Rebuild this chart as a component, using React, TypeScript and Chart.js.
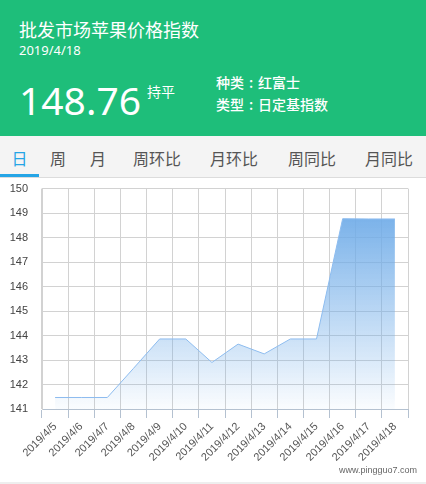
import { useEffect, useRef } from "react"
import { Chart, registerables, type ChartConfiguration } from "chart.js"

Chart.register(...registerables)

// data
const dates = [
  "2019/4/5", "2019/4/6", "2019/4/7", "2019/4/8", "2019/4/9", "2019/4/10", "2019/4/11",
  "2019/4/12", "2019/4/13", "2019/4/14", "2019/4/15", "2019/4/16", "2019/4/17", "2019/4/18",
]
const priceIndex = [
  141.47, 141.47, 141.47, 142.66, 143.86, 143.86, 142.9,
  143.65, 143.25, 143.86, 143.86, 148.77, 148.76, 148.76,
]
const yMin = 141
const yMax = 150

const tabs = ["日", "周", "月", "周环比", "月环比", "周同比", "月同比"]
const tabCenters = [19.5, 58, 98, 157, 234, 312, 389]

const cjk = '"Noto Sans CJK SC", "Noto Sans", sans-serif'

function PriceChart() {
  const chartRef = useRef<HTMLCanvasElement>(null)
  const chartInstance = useRef<Chart | null>(null)

  useEffect(() => {
    if (!chartRef.current) return
    const ctx = chartRef.current.getContext("2d")
    if (!ctx) return

    if (chartInstance.current) {
      chartInstance.current.destroy()
    }

    const peak = Math.max(...priceIndex)

    const config: ChartConfiguration = {
      type: "line",
      data: {
        labels: dates,
        datasets: [
          {
            data: priceIndex,
            borderColor: "#8dbcef",
            borderWidth: 1,
            pointRadius: 0,
            tension: 0,
            fill: "start",
            backgroundColor: (c: any) => {
              const chart = c.chart
              const area = chart.chartArea
              if (!area) return "rgba(112,172,232,0.5)"
              const top = chart.scales.y.getPixelForValue(peak)
              const g = chart.ctx.createLinearGradient(0, top, 0, area.bottom)
              g.addColorStop(0, "rgba(112,172,232,0.92)")
              g.addColorStop(1, "rgba(112,172,232,0.03)")
              return g
            },
          },
        ],
      },
      options: {
        responsive: true,
        maintainAspectRatio: false,
        animation: false,
        layout: {
          padding: { top: 0, right: 18, left: 0, bottom: 0 },
        },
        scales: {
          x: {
            offset: true,
            grid: {
              offset: true,
              color: "#d2d2d2",
              tickColor: "#b4c1d0",
              tickLength: 9,
            },
            border: { color: "#b4c1d0" },
            ticks: {
              autoSkip: false,
              maxRotation: 45,
              minRotation: 45,
              padding: 2,
              color: "#555",
              font: { family: '"Liberation Sans", Arial, sans-serif', size: 11 },
            },
            afterFit: (scale: any) => {
              scale.height = 59
            },
          },
          y: {
            min: yMin,
            max: yMax,
            grid: {
              color: "#d2d2d2",
              drawTicks: false,
            },
            border: { color: "#d2d2d2" },
            ticks: {
              stepSize: 1,
              padding: 14,
              color: "#444",
              font: { family: '"Liberation Sans", Arial, sans-serif', size: 11 },
            },
            afterFit: (scale: any) => {
              scale.width = 42
            },
          },
        },
        plugins: {
          legend: { display: false },
          tooltip: { enabled: false },
        },
      },
    }

    chartInstance.current = new Chart(ctx, config)

    return () => {
      if (chartInstance.current) {
        chartInstance.current.destroy()
        chartInstance.current = null
      }
    }
  }, [])

  return (
    <div style={{ position: "absolute", left: 0, top: 168, width: 426, height: 300 }}>
      <canvas ref={chartRef} />
    </div>
  )
}

function Colon() {
  return <span style={{ display: "inline-block", width: 14, textAlign: "center" }}>:</span>
}

export default function App() {
  return (
    <div
      style={{
        position: "absolute",
        left: 0,
        top: 0,
        width: 426,
        height: 484,
        overflow: "hidden",
        background: "#fff",
        fontFamily: cjk,
      }}
    >
      {/* green header */}
      <div style={{ position: "absolute", left: 0, top: 0, width: 426, height: 136, background: "#1ebe7a", color: "#fff" }}>
        <div style={{ position: "absolute", left: 19, top: 20, fontSize: 18, lineHeight: "18px", whiteSpace: "nowrap" }}>
          批发市场苹果价格指数
        </div>
        <div style={{ position: "absolute", left: 19, top: 44, fontSize: 13, lineHeight: "13px", fontFamily: '"Noto Sans", sans-serif' }}>
          2019/4/18
        </div>
        <div style={{ position: "absolute", left: 19, top: 80, fontSize: 39, lineHeight: "39px", fontFamily: '"Noto Sans", sans-serif' }}>
          148.76
        </div>
        <div style={{ position: "absolute", left: 147, top: 84, fontSize: 14, lineHeight: "14px" }}>持平</div>
        <div style={{ position: "absolute", left: 216, top: 75, fontSize: 14, lineHeight: "14px", fontWeight: 500, whiteSpace: "nowrap" }}>
          种类<Colon />红富士
        </div>
        <div style={{ position: "absolute", left: 216, top: 97, fontSize: 14, lineHeight: "14px", fontWeight: 500, whiteSpace: "nowrap" }}>
          类型<Colon />日定基指数
        </div>
      </div>

      {/* tab bar */}
      <div style={{ position: "absolute", left: 0, top: 136, width: 426, height: 41, background: "#f4f4f4", borderBottom: "1px solid #dcdcdc" }}>
        {tabs.map((t, i) => (
          <div
            key={t}
            style={{
              position: "absolute",
              left: tabCenters[i] - 30,
              width: 60,
              top: 14,
              textAlign: "center",
              fontSize: 16,
              lineHeight: "16px",
              color: i === 0 ? "#25a5e6" : "#555",
            }}
          >
            {t}
          </div>
        ))}
        <div style={{ position: "absolute", left: 0, top: 38, width: 39, height: 3, background: "#25a5e6" }} />
      </div>

      <PriceChart />

      <div
        style={{
          position: "absolute",
          right: 9,
          top: 465,
          fontSize: 9,
          lineHeight: "11px",
          color: "#666",
          fontFamily: '"Liberation Sans", Arial, sans-serif',
        }}
      >
        www.pingguo7.com
      </div>
      <div style={{ position: "absolute", left: 0, top: 482, width: 426, height: 2, background: "#eee" }} />
    </div>
  )
}
